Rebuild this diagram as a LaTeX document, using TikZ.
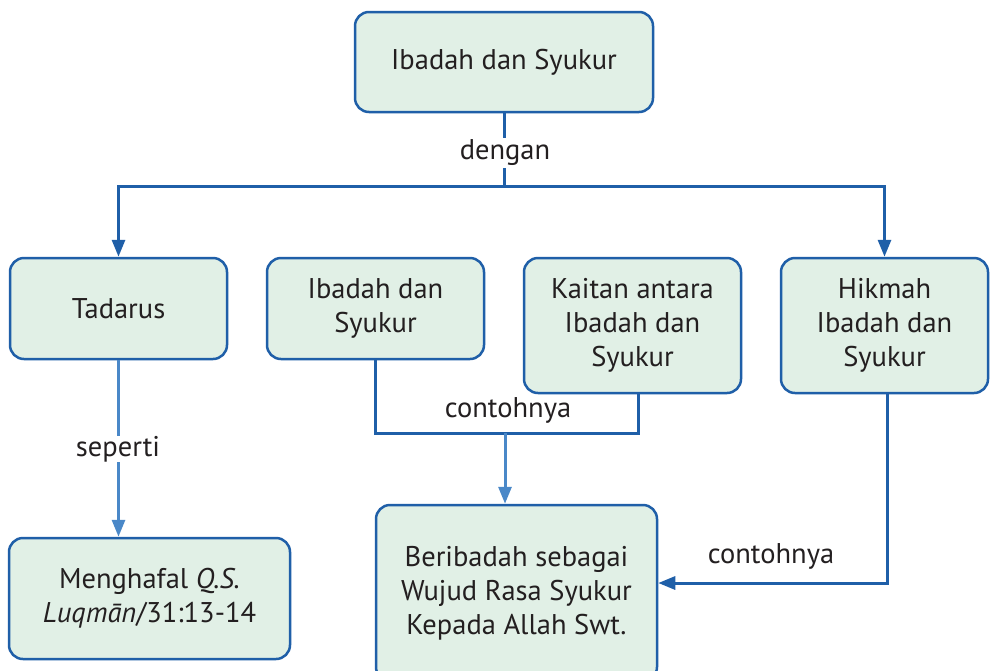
\documentclass[tikz,border=0pt]{standalone}
\usepackage{fontspec}
\setmainfont{PT Sans}
\usetikzlibrary{arrows.meta}
\definecolor{boxline}{HTML}{1F5FA8}
\definecolor{boxfill}{HTML}{E1F0E6}
\definecolor{lightline}{HTML}{4A88C8}
\definecolor{txt}{HTML}{231F20}
\tikzset{
  box/.style={draw=boxline, fill=boxfill, line width=2.5pt, rounded corners=14pt,
    align=center, text=txt, inner sep=0pt, font=\fontsize{28.5}{34}\selectfont},
  conn/.style={draw=boxline, line width=3pt},
  darr/.style={conn, -{Triangle[width=13pt,length=17pt]}},
  larr/.style={draw=lightline, line width=3pt, -{Triangle[width=13pt,length=17pt]}},
  lbl/.style={text=txt, font=\fontsize{28.5}{34}\selectfont, inner sep=2pt},
}
\begin{document}
\begin{tikzpicture}[x=1pt,y=-1pt]
\clip (0,0) rectangle (990,670);
\fill[white] (0,0) rectangle (990,670);
% boxes
\node[box, minimum width=298pt, minimum height=100pt] (top) at (504,62) {Ibadah dan Syukur};
\node[box, minimum width=217pt, minimum height=101pt] (tad) at (118.5,308.5) {Tadarus};
\node[box, minimum width=217pt, minimum height=101pt] (ibd) at (375.5,308.5) {Ibadah dan\\Syukur};
\node[box, minimum width=217pt, minimum height=135pt] (kai) at (632.5,325.5) {Kaitan antara\\Ibadah dan\\Syukur};
\node[box, minimum width=207pt, minimum height=135pt] (hik) at (884.5,325.5) {Hikmah\\Ibadah dan\\Syukur};
\node[box, minimum width=281pt, minimum height=121pt] (men) at (149.5,598.5) {Menghafal \textit{Q.S.}\\\textit{Luqmān}/31:13-14};
\node[box, minimum width=281pt, minimum height=176pt] (ber) at (516.5,593) {Beribadah sebagai\\Wujud Rasa Syukur\\Kepada Allah Swt.};
% coordinates
\coordinate (j) at (504,186);
\coordinate (m) at (505,433);
\coordinate (kb) at (638,393);
\coordinate (h) at (887,583);
\coordinate (hb) at (887,393);
% connectors
\draw[conn] (top.south) -- (j);
\draw[darr] (j) -| (tad.north);
\draw[darr] (j) -| (hik.north);
\node[lbl, fill=white] (dengan) at (505,153) {dengan};
\draw[larr] (tad.south) -- (tad.south |- men.north);
\node[lbl, fill=white, inner sep=0pt] (seperti) at (118,449) {seperti};
\draw[conn] (ibd.south) |- (m) -| (kb);
\node[lbl] (c1) at (508,410) {contohnya};
\draw[larr] (m) -- (m |- ber.north);
\draw[darr] (hb) -- (h) -- (h -| ber.east);
\node[lbl] (c2) at (771,556) {contohnya};
\end{tikzpicture}
\end{document}
